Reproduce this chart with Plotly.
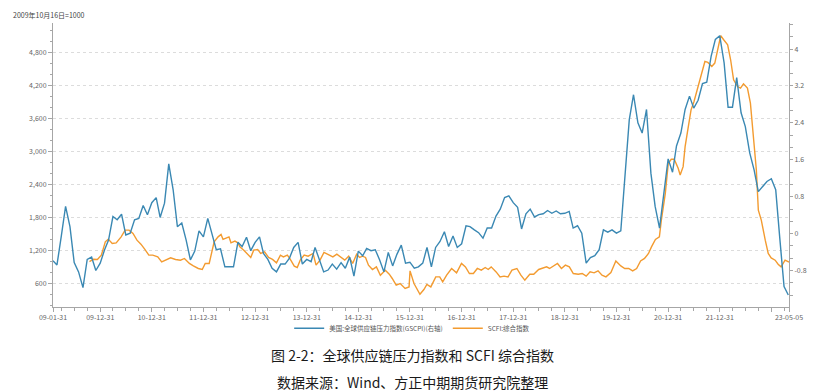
import pandas as pd
import plotly.graph_objects as go

# ---------------- data ----------------
gscpi_start = "2009-01-31"   # monthly, month-end
gscpi = [
    -0.59, -0.68, -0.05, 0.59, 0.15, -0.63, -0.83, -1.17, -0.56, -0.51, -0.80, -0.64,
    -0.35, -0.14, 0.37, 0.30, 0.42, -0.03, 0.01, 0.30, 0.33, 0.61, 0.41, 0.67,
    0.78, 0.35, 0.66, 1.51, 0.95, 0.15, 0.23, -0.14, -0.57, -0.38, 0.06, -0.07,
    0.33, -0.01, -0.35, -0.33, -0.72, -0.72, -0.72, -0.19, -0.28, -0.08, -0.37, -0.19,
    -0.07, -0.43, -0.56, -0.75, -0.83, -0.66, -0.66, -0.53, -0.30, -0.19, -0.66, -0.56,
    -0.61, -0.30, -0.57, -0.83, -0.79, -0.66, -0.77, -0.63, -0.75, -0.51, -0.92, -0.38,
    -0.48, -0.32, -0.37, -0.35, -0.57, -0.83, -0.41, -0.70, -0.45, -0.25, -0.64, -0.62,
    -0.75, -0.72, -0.64, -0.30, -0.72, -0.30, -0.17, 0.04, -0.28, -0.05, -0.30, -0.22,
    0.17, 0.15, 0.08, 0.02, -0.10, 0.12, 0.12, 0.38, 0.53, 0.78, 0.82, 0.67,
    0.57, 0.10, 0.43, 0.53, 0.36, 0.41, 0.43, 0.50, 0.44, 0.49, 0.43, 0.44,
    0.48, 0.12, 0.17, 0.01, -0.64, -0.52, -0.48, -0.35, 0.08, 0.03, 0.08, 0.01,
    0.06, 1.24, 2.47, 3.01, 2.40, 2.18, 2.69, 1.31, 0.59, 0.12, 0.80, 1.62,
    1.33, 1.90, 2.18, 2.69, 2.98, 2.72, 2.89, 3.25, 3.28, 3.84, 4.21, 4.29,
    3.70, 2.74, 2.74, 3.38, 2.62, 2.32, 1.75, 1.38, 0.91, 1.02, 1.13, 1.19,
    0.95, -0.07, -1.15, -1.33,
]

scfi_base = "2009-10-16"     # weekly release; week number counted from the base date
scfi_week = [
    0, 4, 8, 12, 16, 19, 23, 27, 32, 36, 40, 44, 48, 52, 56, 60, 64, 69, 73, 77,
    82, 87, 92, 96, 101, 105, 110, 114, 117, 121, 123, 126, 130, 133, 135, 138, 141, 143, 147, 150,
    152, 156, 159, 163, 166, 170, 173, 177, 181, 185, 189, 193, 196, 200, 203, 207, 210, 213, 217, 221,
    226, 229, 233, 237, 241, 246, 250, 254, 258, 262, 266, 270, 273, 276, 279, 282, 286, 290, 294, 299,
    303, 306, 310, 314, 319, 323, 324, 328, 331, 334, 338, 341, 345, 350, 354, 357, 361, 366, 371, 376,
    380, 384, 388, 392, 396, 400, 403, 406, 411, 415, 419, 423, 427, 432, 436, 440, 445, 449, 454, 458,
    462, 465, 469, 473, 477, 481, 485, 489, 494, 498, 502, 506, 510, 514, 518, 522, 527, 532, 537, 541,
    545, 549, 553, 557, 561, 565, 568, 572, 576, 578, 582, 585, 588, 591, 595, 597, 600, 602, 605, 608,
    611, 615, 618, 622, 625, 629, 632, 635, 638, 641, 645, 648, 651, 655, 658, 661, 665, 668, 671, 674,
    676, 679, 683, 686, 689, 693, 696, 699, 703, 707,
]
scfi_val = [
    1000, 1043, 1038, 1116, 1358, 1407, 1329, 1340, 1449, 1571, 1571, 1511, 1389, 1316, 1220, 1116, 1116, 1085, 994, 1025,
    1067, 1038, 1025, 1056, 965, 921, 874, 856, 965, 965, 1116, 1358, 1449, 1493, 1402, 1420, 1449, 1340, 1371, 1340,
    1267, 1207, 1147, 1074, 1207, 1220, 1147, 1176, 1074, 1038, 976, 1116, 1085, 1116, 1038, 916, 892, 1025, 1116, 1098,
    1147, 934, 1025, 1165, 1129, 1085, 1134, 1074, 1025, 1098, 965, 1134, 1074, 1098, 1074, 934, 856, 903, 752, 843,
    770, 692, 570, 601, 510, 539, 830, 601, 510, 406, 492, 583, 539, 721, 721, 630, 752, 874, 794, 965,
    903, 783, 783, 874, 843, 892, 856, 903, 812, 721, 734, 721, 843, 874, 752, 661, 770, 770, 856, 874,
    903, 874, 916, 965, 874, 934, 903, 783, 770, 783, 734, 812, 794, 830, 752, 721, 800, 1012, 921, 874,
    874, 830, 874, 1012, 1056, 1147, 1267, 1402, 1449, 1753, 2240, 2786, 2859, 2859, 2695, 2573, 2724, 3088, 3423, 3757,
    3908, 4181, 4394, 4636, 4618, 4545, 4607, 4880, 5104, 5031, 4940, 4667, 4303, 4181, 4152, 4230, 4152, 3879, 3332, 2664,
    1935, 1753, 1389, 1147, 1067, 1025, 952, 903, 1025, 990,
]

x_tick_dates = ["2009-01-31", "2009-12-31", "2010-12-31", "2011-12-31", "2012-12-31",
                "2013-12-31", "2014-12-31", "2015-12-31", "2016-12-31", "2017-12-31",
                "2018-12-31", "2019-12-31", "2020-12-31", "2021-12-31", "2022-12-31",
                "2023-05-05"]
x_tick_text = ["09-01-31", "09-12-31", "10-12-31", "11-12-31", "12-12-31",
               "13-12-31", "14-12-31", "15-12-31", "16-12-31", "17-12-31",
               "18-12-31", "19-12-31", "20-12-31", "21-12-31", "",
               "23-05-05"]
right_ticks = [-0.8, 0, 0.8, 1.6, 2.4, 3.2, 4]
right_tick_text = ["-0.8", "0", "0.8", "1.6", "2.4", "3.2", "4"]

name_gscpi = "美国:全球供应链压力指数(GSCPI)(右轴)"
name_scfi = "SCFI:综合指数"

# ---------------- figure ----------------
gscpi_dates = pd.date_range(gscpi_start, periods=len(gscpi), freq=pd.offsets.MonthEnd())
scfi_dates = pd.Timestamp(scfi_base) + pd.to_timedelta([7 * w for w in scfi_week], unit="D")

BLUE = "#3a88b3"
ORANGE = "#f39b30"
AX = "#a6a6a6"
TXT = "#666666"
FONT = "Noto Sans CJK SC"

fig = go.Figure()
fig.add_trace(go.Scatter(x=gscpi_dates, y=gscpi, name=name_gscpi, mode="lines",
                         line=dict(color=BLUE, width=1.4), yaxis="y2"))
fig.add_trace(go.Scatter(x=scfi_dates, y=scfi_val, name=name_scfi, mode="lines",
                         line=dict(color=ORANGE, width=1.4), yaxis="y"))

# the page body adds an 8px offset, so the figure is 8px smaller and margins shifted
fig.update_layout(
    width=811, height=383,
    margin=dict(l=45, r=20, t=15, b=84),
    paper_bgcolor="white", plot_bgcolor="white",
    font=dict(family=FONT, size=7, color=TXT),
    showlegend=True,
    legend=dict(orientation="h", x=0.488, xanchor="center", y=-0.075, yanchor="middle",
                font=dict(size=6.5, color="#555555"), itemwidth=30,
                bgcolor="rgba(0,0,0,0)"),
    xaxis=dict(
        type="date",
        range=["2009-01-31", "2023-05-05"],
        tickmode="array", tickvals=x_tick_dates, ticktext=x_tick_text,
        ticks="outside", ticklen=4, tickcolor=AX, tickwidth=1,
        showline=True, linecolor=AX, linewidth=1,
        showgrid=False, zeroline=False,
        tickfont=dict(size=7, color=TXT),
        minor=dict(tickmode="linear", tick0="2009-03-31", dtick="M3",
                   ticks="outside", ticklen=3, tickcolor=AX, showgrid=False),
    ),
    yaxis=dict(
        range=[174, 5335],
        tickmode="linear", tick0=600, dtick=600, tickformat=",d",
        ticks="outside", ticklen=4, tickcolor=AX,
        showline=True, linecolor=AX, linewidth=1,
        showgrid=True, gridcolor="#dcdcdc", griddash="dot", gridwidth=1,
        zeroline=False,
        tickfont=dict(size=7, color=TXT),
        minor=dict(tickmode="linear", tick0=0, dtick=200,
                   ticks="outside", ticklen=2.5, tickcolor=AX, showgrid=False),
    ),
    yaxis2=dict(
        overlaying="y", side="right",
        range=[-1.591, 4.565],
        tickmode="array", tickvals=right_ticks, ticktext=right_tick_text,
        ticks="outside", ticklen=3, tickcolor=AX,
        showline=True, linecolor=AX, linewidth=1,
        showgrid=False, zeroline=False,
        tickfont=dict(size=7, color=TXT),
        minor=dict(tickmode="linear", tick0=0, dtick=0.8 / 3,
                   ticks="outside", ticklen=2.5, tickcolor=AX, showgrid=False),
    ),
    annotations=[
        dict(text="2009年10月16日=1000", xref="paper", yref="paper",
             x=-0.057, y=1.028, xanchor="left", yanchor="middle",
             showarrow=False, font=dict(size=7, color="#444444")),
        dict(text="图 2-2：全球供应链压力指数和 SCFI 综合指数", xref="paper", yref="paper",
             x=0.488, y=-0.169, xanchor="center", yanchor="middle",
             showarrow=False, font=dict(size=14, color="#1a1a1a", family=FONT)),
        dict(text="数据来源：Wind、方正中期期货研究院整理", xref="paper", yref="paper",
             x=0.488, y=-0.263, xanchor="center", yanchor="middle",
             showarrow=False, font=dict(size=14, color="#1a1a1a", family=FONT)),
    ],
)

fig.write_html("out.html")
